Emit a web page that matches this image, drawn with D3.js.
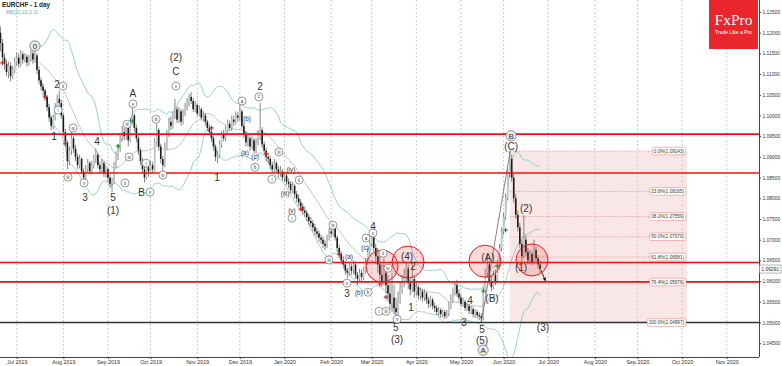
<!DOCTYPE html>
<html>
<head>
<meta charset="utf-8">
<script src="https://cdn.jsdelivr.net/npm/d3@7"></script>
<style>
  body { margin: 0; background: #fff; }
  svg { display: block; font-family: "Liberation Sans", Arial, sans-serif; }
</style>
</head>
<body>
<div id="chart"></div>
<script>
// ---- data (EURCHF daily) ----
const symbol = "EURCHF - 1 day";
const bbTitle = "BB(20,20,2.0)";
const firstDay = new Date(2019, 5, 19);   // first bar
const firstOpen = 1.1200;

const closes = [
  1.1175,1.1140,1.1125,1.1105,1.1120,1.1095,1.1110,1.1130,
  1.1140,1.1125,1.1148,1.1135,1.1142,1.1128,1.1138,1.1150,1.1135,1.1145,
  1.1110,1.1085,1.1070,1.1060,1.1045,1.1020,1.0995,1.0975,1.0995,1.1020,
  1.1040,1.1030,1.1000,1.0960,1.0935,1.0890,1.0915,1.0945,1.0920,1.0900,
  1.0880,1.0895,1.0865,1.0850,1.0870,1.0885,1.0865,1.0880,1.0895,1.0905,
  1.0880,1.0870,1.0885,1.0860,1.0870,1.0850,1.0835,1.0840,1.0880,1.0900,
  1.0920,1.0945,1.0960,1.0950,1.0975,1.0940,1.0985,1.1000,1.0970,1.0945,
  1.0915,1.0890,1.0870,1.0850,1.0875,1.0865,1.0880,1.0870,1.0935,1.0965,
  1.0925,1.0895,1.0880,1.0925,1.0955,1.0985,1.0975,1.1000,1.1015,1.0990,
  1.1010,1.0985,1.1005,1.1020,1.1030,1.1045,1.1035,1.1015,1.1025,1.1005,
  1.1015,1.0995,1.1000,1.0985,1.0970,1.0960,1.0945,1.0925,1.0900,1.0905,
  1.0930,1.0955,1.0945,1.0965,1.0980,1.0970,1.0990,1.0985,1.1000,1.0995,
  1.1010,1.0975,1.0955,1.0935,1.0945,1.0925,1.0940,1.0915,1.0935,1.0950,
  1.0965,1.0930,1.0915,1.0900,1.0895,1.0880,1.0870,1.0885,1.0870,1.0860,
  1.0865,1.0850,1.0855,1.0840,1.0835,1.0820,1.0830,1.0810,1.0800,1.0790,
  1.0780,1.0770,1.0765,1.0755,1.0745,1.0740,1.0730,1.0720,1.0715,1.0705,
  1.0700,1.0690,1.0685,1.0705,1.0720,1.0715,1.0730,1.0705,1.0680,1.0665,
  1.0650,1.0640,1.0625,1.0620,1.0635,1.0625,1.0640,1.0615,1.0605,1.0620,
  1.0610,1.0625,1.0645,1.0670,1.0690,1.0705,1.0680,1.0660,1.0640,1.0615,
  1.0600,1.0620,1.0590,1.0570,1.0545,1.0560,1.0535,1.0525,1.0560,1.0585,
  1.0600,1.0615,1.0630,1.0595,1.0580,1.0605,1.0575,1.0585,1.0565,1.0575,
  1.0560,1.0570,1.0555,1.0545,1.0555,1.0540,1.0535,1.0525,1.0530,1.0520,
  1.0525,1.0515,1.0522,1.0540,1.0555,1.0575,1.0590,1.0570,1.0560,1.0545,
  1.0550,1.0535,1.0540,1.0528,1.0532,1.0520,1.0525,1.0518,1.0515,1.0510,
  1.0575,1.0620,1.0640,1.0600,1.0585,1.0615,1.0600,1.0640,1.0680,1.0720,
  1.0755,1.0800,1.0860,1.0895,1.0850,1.0800,1.0760,1.0730,1.0690,1.0660,
  1.0700,1.0670,1.0650,1.0665,1.0645,1.0675,1.0655,1.0640,1.06291
];
const highs = [
  1.1215,1.1185,1.1150,1.1135,1.1130,1.1128,1.1120,1.1140,
  1.1152,1.1150,1.1158,1.1155,1.1150,1.1148,1.1146,1.1158,1.1155,1.1160,
  1.1150,1.1118,1.1092,1.1078,1.1065,1.1050,1.1028,1.1000,1.1002,1.1030,
  1.1050,1.1060,1.1038,1.1005,1.0968,1.0940,1.0925,1.0960,1.0950,1.0928,
  1.0908,1.0905,1.0900,1.0872,1.0880,1.0895,1.0890,1.0890,1.0905,1.0920,
  1.0910,1.0888,1.0895,1.0890,1.0880,1.0875,1.0858,1.0850,1.0888,1.0910,
  1.0930,1.0955,1.0975,1.0970,1.0985,1.0980,1.0995,1.1020,1.1005,1.0978,
  1.0952,1.0922,1.0898,1.0878,1.0885,1.0882,1.0890,1.0888,1.0945,1.0980,
  1.0970,1.0932,1.0902,1.0935,1.0965,1.0995,1.0998,1.1010,1.1040,1.1022,
  1.1020,1.1015,1.1015,1.1030,1.1042,1.1052,1.1057,1.1042,1.1035,1.1030,
  1.1025,1.1020,1.1010,1.1005,1.0990,1.0978,1.0965,1.0950,1.0930,1.0915,
  1.0940,1.0962,1.0965,1.0975,1.0990,1.0988,1.1000,1.1000,1.1010,1.1008,
  1.1025,1.1015,1.0982,1.0962,1.0955,1.0950,1.0950,1.0945,1.0945,1.0965,
  1.1030,1.0972,1.0938,1.0922,1.0910,1.0902,1.0888,1.0895,1.0890,1.0878,
  1.0878,1.0870,1.0865,1.0862,1.0848,1.0842,1.0840,1.0835,1.0818,1.0808,
  1.0798,1.0788,1.0780,1.0772,1.0762,1.0755,1.0748,1.0738,1.0728,1.0722,
  1.0712,1.0708,1.0698,1.0712,1.0728,1.0730,1.0738,1.0735,1.0710,1.0688,
  1.0672,1.0660,1.0648,1.0632,1.0645,1.0642,1.0650,1.0645,1.0622,1.0630,
  1.0628,1.0635,1.0655,1.0680,1.0700,1.0715,1.0712,1.0690,1.0680,1.0660,
  1.0640,1.0655,1.0635,1.0615,1.0600,1.0620,1.0590,1.0560,1.0575,1.0600,
  1.0615,1.0630,1.0648,1.0640,1.0610,1.0642,1.0615,1.0600,1.0592,1.0585,
  1.0582,1.0580,1.0575,1.0562,1.0565,1.0560,1.0548,1.0542,1.0538,1.0535,
  1.0532,1.0530,1.0530,1.0550,1.0568,1.0585,1.0598,1.0603,1.0580,1.0568,
  1.0560,1.0555,1.0548,1.0545,1.0540,1.0538,1.0532,1.0530,1.0525,1.0522,
  1.0585,1.0630,1.0663,1.0648,1.0612,1.0625,1.0628,1.0650,1.0690,1.0730,
  1.0765,1.0812,1.0872,1.0914,1.0905,1.0860,1.0810,1.0770,1.0740,1.0700,
  1.0759,1.0710,1.0680,1.0675,1.0672,1.0700,1.0682,1.0662,1.0650
];
const lows = [
  1.1155,1.1130,1.1110,1.1095,1.1090,1.1082,1.1088,1.1102,
  1.1120,1.1115,1.1118,1.1125,1.1128,1.1118,1.1120,1.1130,1.1125,1.1128,
  1.1100,1.1075,1.1060,1.1048,1.1035,1.1010,1.0985,1.0965,1.0968,1.0988,
  1.1012,1.1022,1.0992,1.0950,1.0925,1.0870,1.0880,1.0905,1.0910,1.0890,
  1.0870,1.0872,1.0858,1.0842,1.0845,1.0862,1.0858,1.0858,1.0872,1.0885,
  1.0872,1.0860,1.0862,1.0852,1.0850,1.0840,1.0825,1.0815,1.0835,1.0872,
  1.0892,1.0912,1.0938,1.0940,1.0942,1.0925,1.0935,1.0978,1.0960,1.0935,
  1.0905,1.0880,1.0860,1.0838,1.0845,1.0852,1.0858,1.0860,1.0865,1.0928,
  1.0915,1.0885,1.0866,1.0875,1.0918,1.0948,1.0965,1.0968,1.0992,1.0982,
  1.0982,1.0975,1.0978,1.0998,1.1012,1.1022,1.1028,1.1008,1.1008,1.0998,
  1.0998,1.0988,1.0985,1.0975,1.0962,1.0952,1.0935,1.0915,1.0890,1.0885,
  1.0898,1.0922,1.0938,1.0938,1.0958,1.0962,1.0962,1.0975,1.0978,1.0985,
  1.0988,1.0968,1.0945,1.0925,1.0925,1.0915,1.0918,1.0908,1.0908,1.0928,
  1.0940,1.0922,1.0905,1.0890,1.0885,1.0870,1.0860,1.0862,1.0862,1.0850,
  1.0852,1.0842,1.0840,1.0832,1.0825,1.0812,1.0812,1.0800,1.0790,1.0780,
  1.0770,1.0760,1.0755,1.0745,1.0735,1.0730,1.0720,1.0710,1.0705,1.0695,
  1.0690,1.0680,1.0675,1.0680,1.0698,1.0705,1.0708,1.0698,1.0670,1.0655,
  1.0640,1.0630,1.0615,1.0607,1.0612,1.0615,1.0618,1.0605,1.0590,1.0598,
  1.0600,1.0602,1.0618,1.0640,1.0662,1.0682,1.0670,1.0640,1.0620,1.0600,
  1.0585,1.0590,1.0570,1.0550,1.0530,1.0525,1.0520,1.0510,1.0515,1.0545,
  1.0570,1.0585,1.0600,1.0580,1.0565,1.0572,1.0560,1.0565,1.0555,1.0555,
  1.0550,1.0552,1.0545,1.0535,1.0538,1.0532,1.0525,1.0518,1.0515,1.0512,
  1.0512,1.0508,1.0510,1.0515,1.0532,1.0548,1.0565,1.0562,1.0550,1.0538,
  1.0538,1.0528,1.0528,1.0520,1.0520,1.0512,1.0512,1.0510,1.0506,1.0501,
  1.0505,1.0568,1.0610,1.0590,1.0575,1.0580,1.0590,1.0595,1.0632,1.0672,
  1.0712,1.0748,1.0795,1.0850,1.0840,1.0790,1.0750,1.0720,1.0680,1.0638,
  1.0655,1.0660,1.0640,1.0642,1.0638,1.0640,1.0648,1.0630,1.0620
];

// horizontal levels
const redLevels = [1.0955, 1.0861, 1.0645, 1.0598];
const blackLevel = 1.0500;

// fibonacci box (bar index counted in weekdays from 1 Jul 2019)
const fibFrom = 243, fibTo = 330.4;
const fibPct = ["0.0%", "23.6%", "38.2%", "50.0%", "61.8%", "76.4%", "100.0%"];
const fibPrice = [1.09143, 1.08165, 1.07559, 1.07070, 1.06581, 1.05976, 1.04997];

// red circles [bar, price]
const circles = [[180.1, 1.0636], [192.9, 1.0646], [230.8, 1.0648], [254, 1.0651]];

// trend line and arrow [bar, price]
const trendLine = [[229, 1.0501], [243.3, 1.0914]];
const arrowLine = [[258.4, 1.0626], [260.6, 1.0601]];

// signal crosses [bar, price]
const redCrosses = [[-7, 1.1127], [14, 1.1045], [24, 1.0933], [96, 1.0970], [123, 1.0907],
  [140, 1.0774], [159, 1.0665], [179, 1.0593], [182, 1.0561]];
const greenCrosses = [[50, 1.0926], [57, 1.0987], [230, 1.0576], [233, 1.0610], [237, 1.0636], [241, 1.0723]];

// wave labels [bar, price, text]
const bigLabels = [
  [19.9, 1.1074, "2"], [18.4, 1.0950, "1"], [33.7, 1.0803, "3"], [39.6, 1.0936, "4"],
  [47.5, 1.0803, "5"], [47.5, 1.0771, "(1)"], [57.3, 1.1054, "A"], [61.6, 1.0815, "B"],
  [78.5, 1.1107, "C"], [78.5, 1.1141, "(2)"], [98.7, 1.0851, "1"], [120, 1.1069, "2"],
  [162.8, 1.0571, "3"], [175.6, 1.0733, "4"], [186.9, 1.0489, "5"], [187.5, 1.0460, "(3)"],
  [192.4, 1.0660, "(4)"], [195.4, 1.0636, "2"], [194.4, 1.0537, "1"], [223.4, 1.0554, "4"],
  [220.5, 1.0501, "3"], [229.4, 1.0484, "5"], [229.4, 1.0457, "(5)"], [232.3, 1.0658, "(A)"],
  [234.3, 1.0559, "(B)"], [243.7, 1.0924, "(C)"], [251.1, 1.0776, "(2)"], [248.6, 1.0634, "(1)"],
  [259.4, 1.0489, "(3)"]
];
const bigCircled = [[9.0, 1.1168, "0"], [229.9, 1.0433, "A"], [243.7, 1.0951, "B"]];
const smallCircled = [
  [22.8, 1.1071, "ii"], [20.4, 1.1013, "i"], [27.8, 1.0970, "iv"], [25.3, 1.0851, "iii"],
  [33.2, 1.0837, "v"], [53.4, 1.0837, "ii"], [55.4, 1.0900, "iv"], [54.4, 1.0979, "iii"],
  [57.3, 1.1028, "v"], [63.7, 1.0885, "i"], [65.7, 1.0815, "ii"], [68.7, 1.0991, "iii"],
  [72.1, 1.0856, "iv"], [78.5, 1.1071, "v"], [111.1, 1.1035, "a"], [117.5, 1.0875, "b"],
  [119.4, 1.1045, "c"], [129.3, 1.0912, "iii"], [125.8, 1.0846, "i"], [139.2, 1.0844, "ii"],
  [135.7, 1.0752, "i"], [155.9, 1.0735, "iv"], [153.9, 1.0651, "iii"], [162.8, 1.0595, "v"],
  [173.2, 1.0573, "b"], [172.2, 1.0704, "a"], [175.6, 1.0716, "c"], [180.6, 1.0667, "ii"],
  [183, 1.0631, "iv"], [178.6, 1.0527, "i"], [182.0, 1.0527, "iii"], [187.5, 1.0508, "v"]
];
const smallLabels = [
  [113.5, 1.0991, "(b)"], [112.5, 1.0909, "(a)"], [117.5, 1.0900, "(c)"], [135.2, 1.0868, "(iv)"],
  [132.3, 1.0810, "(iii)"], [135.7, 1.0769, "(v)"], [163.8, 1.0658, "(a)"], [168.7, 1.0573, "(b)"],
  [171.7, 1.0680, "(c)"]
];

// ---- layout ----
const width = 782, height = 366;
const plotRight = 759, plotBottom = 357;

const svg = d3.select("#chart").append("svg")
  .attr("width", width).attr("height", height);

svg.append("defs").append("clipPath").attr("id", "plot")
  .append("rect").attr("width", plotRight).attr("height", plotBottom);

// weekday calendar -> bar index (0 = 1 Jul 2019)
const days = d3.timeDay.range(firstDay, new Date(2020, 11, 1)).filter(d => d.getDay() % 6 !== 0);
const i0 = days.findIndex(d => +d === +new Date(2019, 6, 1));
const bars = closes.map((c, k) => ({
  i: k - i0, o: k ? closes[k - 1] : firstOpen, h: highs[k], l: lows[k], c
}));

const x = d3.scaleLinear().domain([-8.23, 365.9]).range([0, plotRight]);
const y = d3.scaleLinear().domain([1.04166, 1.1279]).range([plotBottom, 0]);

// month grid
const months = d3.timeMonth.range(new Date(2019, 6, 1), new Date(2020, 10, 2));
const monthIdx = months.map(m => days.findIndex(d => d >= m) - i0);

const g = svg.append("g").attr("clip-path", "url(#plot)");

g.selectAll("line.grid").data(monthIdx).join("line")
  .attr("class", "grid")
  .attr("x1", d => x(d)).attr("x2", d => x(d))
  .attr("y1", 0).attr("y2", plotBottom)
  .attr("stroke", "#b5b5b5").attr("stroke-width", 0.7)
  .attr("stroke-dasharray", "2,2");

// fib box
g.append("rect")
  .attr("x", x(fibFrom)).attr("width", x(fibTo) - x(fibFrom))
  .attr("y", y(fibPrice[0])).attr("height", y(fibPrice[6]) - y(fibPrice[0]))
  .attr("fill", "#f2c9c9").attr("fill-opacity", 0.45);

g.selectAll("line.fib").data(fibPrice).join("line")
  .attr("class", "fib")
  .attr("x1", x(fibFrom)).attr("x2", x(fibTo))
  .attr("y1", d => y(d)).attr("y2", d => y(d))
  .attr("stroke", "#e48888").attr("stroke-width", 0.7)
  .attr("stroke-dasharray", "1.5,1.5");

// bollinger bands
const period = 20, dev = 2;
const bb = bars.map((b, k) => {
  if (k < period - 1) return null;
  const win = closes.slice(k - period + 1, k + 1);
  const m = d3.mean(win);
  const sd = Math.sqrt(d3.mean(win, v => (v - m) * (v - m)));
  return { i: b.i, mid: m, up: m + dev * sd, lo: m - dev * sd };
}).filter(d => d);

const bbLine = key => d3.line().x(d => x(d.i)).y(d => y(d[key]));
g.append("path").datum(bb).attr("d", bbLine("up"))
  .attr("fill", "none").attr("stroke", "#8ec9c9").attr("stroke-width", 0.9);
g.append("path").datum(bb).attr("d", bbLine("lo"))
  .attr("fill", "none").attr("stroke", "#8ec9c9").attr("stroke-width", 0.9);
g.append("path").datum(bb).attr("d", bbLine("mid"))
  .attr("fill", "none").attr("stroke", "#9a9a9a").attr("stroke-width", 0.6);

// candles
const candle = g.selectAll("g.candle").data(bars).join("g").attr("class", "candle");
candle.append("line")
  .attr("x1", d => x(d.i)).attr("x2", d => x(d.i))
  .attr("y1", d => y(d.h)).attr("y2", d => y(d.l))
  .attr("stroke", "#666").attr("stroke-width", 0.8);
candle.append("rect")
  .attr("x", d => x(d.i) - 0.8).attr("width", 1.6)
  .attr("y", d => y(Math.max(d.o, d.c)))
  .attr("height", d => Math.max(0.6, Math.abs(y(d.o) - y(d.c))))
  .attr("fill", d => d.c < d.o ? "#1a1a1a" : "#c4c4c4");

// trend line + arrow
g.append("path").datum(trendLine)
  .attr("d", d3.line().x(d => x(d[0])).y(d => y(d[1])))
  .attr("stroke", "#666").attr("stroke-width", 0.8).attr("fill", "none");

svg.append("defs").append("marker").attr("id", "arr")
  .attr("viewBox", "0 0 6 6").attr("refX", 5).attr("refY", 3)
  .attr("markerWidth", 4).attr("markerHeight", 4).attr("orient", "auto")
  .append("path").attr("d", "M0,0L6,3L0,6Z").attr("fill", "#111");
g.append("path").datum(arrowLine)
  .attr("d", d3.line().x(d => x(d[0])).y(d => y(d[1])))
  .attr("stroke", "#111").attr("stroke-width", 0.9).attr("marker-end", "url(#arr)");

// crosses
const cross = (data, color) => {
  const s = g.selectAll(null).data(data).join("g")
    .attr("transform", d => `translate(${x(d[0])},${y(d[1])})`);
  s.append("path").attr("d", "M-2.2,0H2.2M0,-2.2V2.2")
    .attr("stroke", color).attr("stroke-width", 1.2);
};
cross(redCrosses, "#d42020");
cross(greenCrosses, "#1a9a2a");

// horizontal levels
g.selectAll("line.lvl").data(redLevels).join("line")
  .attr("class", "lvl")
  .attr("x1", 0).attr("x2", plotRight)
  .attr("y1", d => y(d)).attr("y2", d => y(d))
  .attr("stroke", "#f01010").attr("stroke-width", 1.6);
g.append("line")
  .attr("x1", 0).attr("x2", plotRight)
  .attr("y1", y(blackLevel)).attr("y2", y(blackLevel))
  .attr("stroke", "#333").attr("stroke-width", 1.6);

// red circles
g.selectAll("circle.zone").data(circles).join("circle")
  .attr("class", "zone")
  .attr("cx", d => x(d[0])).attr("cy", d => y(d[1])).attr("r", 16)
  .attr("fill", "#f03030").attr("fill-opacity", 0.18)
  .attr("stroke", "#e81818").attr("stroke-width", 1);

// fib labels
const fibLab = g.selectAll("g.fibl").data(fibPrice).join("g")
  .attr("class", "fibl")
  .attr("transform", d => `translate(${x(fibTo) - 1},${y(d)})`);
fibLab.append("text")
  .attr("text-anchor", "end").attr("dy", "0.35em").attr("x", -2)
  .attr("font-size", 4.6).attr("fill", "#333")
  .text((d, k) => `${fibPct[k]}(${d.toFixed(5)})`)
  .each(function () {
    const bx = this.getBBox();
    d3.select(this.parentNode).insert("rect", "text")
      .attr("x", bx.x - 1.5).attr("y", -3.8).attr("width", bx.width + 3).attr("height", 7.6)
      .attr("rx", 1.5).attr("fill", "#fff").attr("stroke", "#e49a9a").attr("stroke-width", 0.7);
  });

// wave labels
g.selectAll("text.big").data(bigLabels).join("text")
  .attr("class", "big")
  .attr("x", d => x(d[0])).attr("y", d => y(d[1])).attr("dy", "0.35em")
  .attr("text-anchor", "middle").attr("font-size", 10).attr("fill", "#333")
  .text(d => d[2]);

const bc = g.selectAll("g.bc").data(bigCircled).join("g").attr("class", "bc")
  .attr("transform", d => `translate(${x(d[0])},${y(d[1])})`);
bc.append("circle").attr("r", 5.2).attr("fill", "#e9e9e9").attr("stroke", "#555").attr("stroke-width", 0.6);
bc.append("text").attr("text-anchor", "middle").attr("dy", "0.35em")
  .attr("font-size", 8).attr("fill", "#333").text(d => d[2]);

const sc = g.selectAll("g.sc").data(smallCircled).join("g").attr("class", "sc")
  .attr("transform", d => `translate(${x(d[0])},${y(d[1])})`);
sc.append("circle").attr("r", 4).attr("fill", "#fff").attr("stroke", "#555").attr("stroke-width", 0.6);
sc.append("text").attr("text-anchor", "middle").attr("dy", "0.35em")
  .attr("font-size", 4.6).attr("fill", "#333").text(d => d[2]);

g.selectAll("text.small").data(smallLabels).join("text")
  .attr("class", "small")
  .attr("x", d => x(d[0])).attr("y", d => y(d[1])).attr("dy", "0.35em")
  .attr("text-anchor", "middle").attr("font-size", 6.5).attr("fill", "#333")
  .text(d => d[2]);

// ---- axes ----
const yTicks = d3.range(0, 17).map(k => +(1.045 + k * 0.005).toFixed(3));
const yAxis = svg.append("g")
  .attr("transform", `translate(${plotRight},0)`)
  .call(d3.axisRight(y).tickValues(yTicks).tickFormat(d3.format(".5f")).tickSize(2).tickPadding(1.5));
yAxis.select(".domain").attr("d", `M0.5,0V${plotBottom}`).attr("stroke", "#444");
yAxis.selectAll("text").attr("font-size", 4.9).attr("fill", "#333")
  .attr("font-family", "Liberation Sans, Arial, sans-serif");
yAxis.selectAll("line").attr("stroke", "#444");

const xAxis = svg.append("g")
  .attr("transform", `translate(0,${plotBottom})`)
  .call(d3.axisBottom(x).tickValues(monthIdx)
    .tickFormat((d, k) => d3.timeFormat("%b %Y")(months[k])).tickSize(2).tickPadding(1));
xAxis.select(".domain").attr("d", `M0,0.5H${plotRight}`).attr("stroke", "#444");
xAxis.selectAll("text").attr("font-size", 5.4).attr("fill", "#333")
  .attr("font-family", "Liberation Sans, Arial, sans-serif");
xAxis.selectAll("line").attr("stroke", "#444");

// last price tag
const last = closes[closes.length - 1];
svg.append("rect").attr("x", plotRight + 0.5).attr("y", y(last) - 4)
  .attr("width", 21.5).attr("height", 8)
  .attr("fill", "#fff").attr("stroke", "#888").attr("stroke-width", 0.6);
svg.append("text").attr("x", plotRight + 11.2).attr("y", y(last)).attr("dy", "0.35em")
  .attr("text-anchor", "middle").attr("font-size", 4.9).attr("fill", "#222")
  .text(last.toFixed(5));

// header
svg.append("text").attr("x", 2).attr("y", 7).attr("font-size", 6.3)
  .attr("font-weight", "bold").attr("fill", "#222").text(symbol);
svg.append("text").attr("x", 6).attr("y", 14).attr("font-size", 5.2)
  .attr("fill", "#6fb3b3").text(bbTitle);

// logo
const logo = svg.append("g").attr("transform", "translate(709,0)");
logo.append("rect").attr("width", 49).attr("height", 49).attr("fill", "#e8262b");
logo.append("text").attr("x", 24.5).attr("y", 25).attr("text-anchor", "middle")
  .attr("font-family", "Liberation Serif, serif").attr("font-size", 15.5)
  .attr("fill", "#fff").text("FxPro");
logo.append("text").attr("x", 24.5).attr("y", 34).attr("text-anchor", "middle")
  .attr("font-size", 5).attr("fill", "#fff").text("Trade Like a Pro");
</script>
</body>
</html>
